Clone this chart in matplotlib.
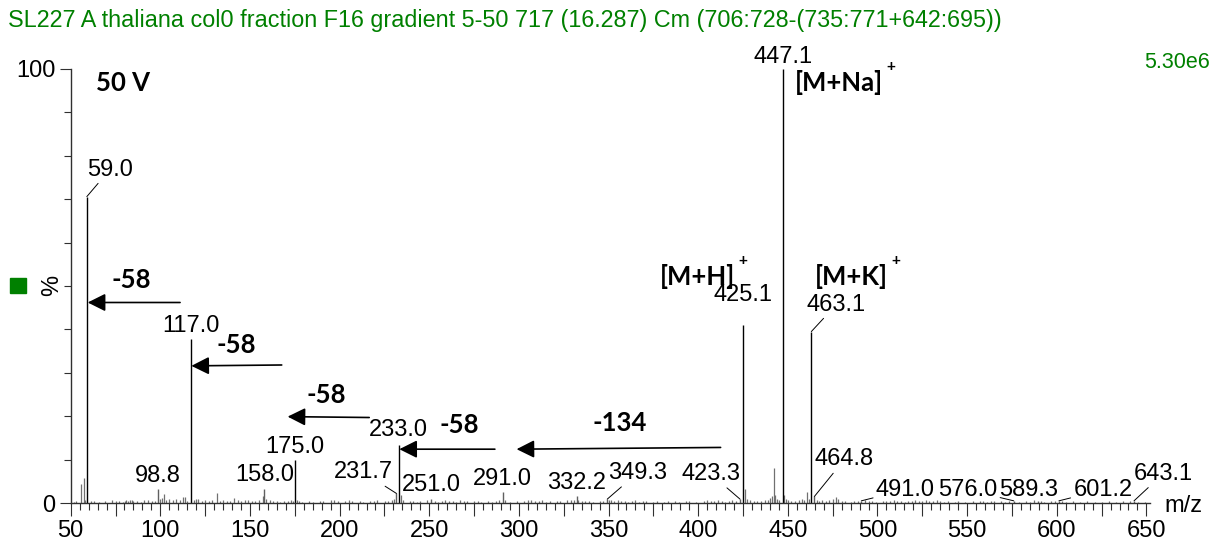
import matplotlib
matplotlib.use("Agg")
import matplotlib.pyplot as plt
from matplotlib.patches import Rectangle
from matplotlib.ticker import MultipleLocator, FixedLocator, FuncFormatter

# Labelled peaks: m/z and relative intensity (%)
peak_mz = [59.0, 98.8, 117.0, 158.0, 175.0, 231.7, 233.0, 251.0, 291.0, 332.2, 349.3,
           423.3, 425.1, 447.1, 463.1, 464.8, 491.0, 576.0, 589.3, 601.2, 643.1]
peak_int = [70.6, 3.2, 37.9, 3.2, 9.9, 2.2, 13.4, 1.0, 2.5, 1.7, 0.9,
            0.9, 41.0, 100.0, 39.5, 1.5, 0.5, 0.5, 0.5, 0.5, 0.5]

# Unlabelled background peaks
noise_mz = [52.0, 53.0, 55.9, 57.2, 58.1, 61.1, 63.0, 66.0, 69.1, 73.0, 75.0, 77.1, 79.0, 80.1,
            81.0, 82.1, 83.0, 84.1, 85.0, 87.0, 89.1, 91.0, 93.0, 95.1, 97.0, 100.0, 101.1, 102.0,
            103.1, 105.0, 107.1, 109.0, 111.1, 112.4, 114.0, 115.1, 119.0, 120.1, 121.0, 123.1,
            125.0, 127.1, 129.0, 131.4, 133.0, 135.1, 137.0, 139.1, 141.0, 143.1, 145.0, 147.1,
            149.0, 151.1, 153.0, 155.1, 157.0, 159.0, 161.1, 163.0, 165.1, 167.0, 169.1, 171.0,
            173.1, 174.0, 176.0, 177.1, 179.0, 183.1, 185.0, 189.1, 191.0, 195.1, 197.0, 199.1,
            203.0, 205.1, 207.0, 211.1, 213.0, 217.0, 219.1, 221.0, 225.1, 227.0, 229.1, 230.2,
            234.0, 235.1, 239.0, 241.1, 243.0, 245.1, 249.0, 253.1, 255.0, 257.1, 259.0, 261.1,
            263.0, 265.1, 267.0, 269.1, 271.0, 275.1, 277.0, 279.1, 283.0, 285.1, 287.0, 289.1,
            292.1, 295.0, 299.1, 303.0, 305.1, 307.0, 309.1, 311.0, 313.1, 315.0, 317.1, 321.0,
            323.1, 327.0, 329.1, 331.0, 333.1, 335.0, 337.1, 339.0, 341.1, 345.0, 347.1, 350.2,
            351.1, 353.0, 355.1, 357.0, 359.1, 361.0, 363.1, 365.0, 367.1, 369.0, 371.1, 375.0,
            377.1, 381.0, 383.1, 387.0, 389.1, 393.0, 395.1, 399.0, 403.1, 405.0, 407.1, 409.0,
            411.1, 413.0, 415.1, 417.0, 419.1, 421.0, 426.1, 427.1, 429.0, 431.1, 433.0, 435.1,
            437.0, 439.1, 440.2, 441.1, 442.2, 443.1, 444.0, 445.1, 448.1, 449.0, 450.1, 452.0,
            454.1, 456.0, 458.1, 459.0, 460.5, 462.0, 466.0, 467.1, 469.0, 471.1, 473.0, 475.1,
            477.0, 478.1, 480.0, 482.1, 485.0, 487.1, 489.0, 493.1, 495.0, 497.1, 499.0, 503.1,
            505.0, 507.1, 509.0, 511.1, 513.0, 515.1, 517.0, 519.1, 521.0, 523.1, 525.0, 527.1,
            529.0, 531.1, 533.0, 535.1, 537.0, 539.1, 543.0, 545.1, 549.0, 553.1, 557.0, 559.1,
            561.0, 563.1, 565.0, 569.1, 571.0, 573.1, 579.0, 583.1, 585.0, 587.1, 591.0, 593.1,
            597.0, 599.1, 603.0, 605.1, 609.0, 613.1, 617.0, 621.1, 625.0, 629.1, 633.0, 637.1,
            641.0, 645.1, 649.0]
noise_int = [0.3, 0.4, 4.4, 5.7, 0.6, 0.4, 0.5, 0.3, 0.4, 0.8, 0.4, 0.5, 0.3, 0.5,
             0.6, 0.5, 0.7, 0.6, 0.4, 0.5, 0.3, 0.6, 0.8, 0.4, 0.5, 1.0, 1.2, 2.0,
             0.8, 0.9, 0.6, 1.0, 0.7, 1.4, 1.3, 0.5, 0.8, 0.9, 1.0, 0.4,
             0.6, 0.5, 0.7, 2.3, 0.5, 0.6, 0.4, 0.5, 1.2, 0.6, 0.5, 0.6,
             0.7, 0.5, 0.4, 0.6, 1.5, 0.9, 0.6, 0.4, 0.5, 0.3, 0.4, 0.5,
             0.6, 0.5, 0.6, 0.4, 0.3, 0.5, 0.3, 0.4, 0.5, 0.6, 0.7, 0.4,
             0.5, 0.6, 0.4, 0.5, 0.3, 0.5, 0.4, 0.6, 0.4, 0.5, 0.7, 1.0,
             1.8, 0.8, 0.4, 0.5, 0.3, 0.4, 0.6, 0.5, 0.3, 0.5, 0.6, 0.4,
             0.5, 0.3, 0.6, 0.5, 0.4, 0.4, 0.5, 0.3, 0.4, 0.3, 0.5, 0.6,
             0.8, 0.3, 0.4, 0.5, 0.6, 0.7, 0.5, 0.4, 0.6, 0.3, 0.4, 0.5,
             0.4, 0.6, 0.8, 0.7, 0.6, 0.5, 0.4, 0.5, 0.3, 0.4, 0.5, 0.6,
             0.7, 0.5, 0.6, 0.4, 0.5, 0.3, 0.4, 0.6, 0.3, 0.5, 0.4, 0.3,
             0.4, 0.3, 0.5, 0.4, 0.3, 0.5, 0.4, 0.3, 0.4, 0.6, 0.5, 0.4,
             0.6, 0.4, 0.3, 0.5, 0.6, 0.5, 3.2, 1.0, 0.6, 0.5, 0.4, 0.5,
             0.6, 0.8, 1.2, 1.5, 8.0, 1.8, 0.9, 0.7, 1.8, 1.0, 0.6, 0.5,
             0.4, 0.6, 0.9, 0.7, 2.6, 1.0, 0.7, 0.5, 0.6, 0.5, 0.7, 0.9,
             1.3, 1.0, 0.5, 0.4, 0.3, 0.4, 0.5, 0.6, 0.5, 0.4, 0.3, 0.4,
             0.5, 0.4, 0.6, 0.4, 0.5, 0.3, 0.4, 0.5, 0.6, 0.4, 0.5, 0.6,
             0.5, 0.4, 0.6, 0.5, 0.3, 0.4, 0.3, 0.4, 0.3, 0.4, 0.5, 0.4,
             0.3, 0.4, 0.5, 0.4, 0.3, 0.4, 0.3, 0.4, 0.3, 0.6, 0.4, 0.3,
             0.4, 0.5, 0.4, 0.3, 0.4, 0.3, 0.4, 0.3, 0.3, 0.4, 0.3, 0.4,
             0.5, 0.3, 0.3]

# label offset from peak top in pixels (dx, dy) and whether a leader line is drawn
label_offsets = [(23, 27), (0, 13), (0, 13), (0, 14), (0, 13), (-33, 21), (0, 15), (0, 14),
                 (0, 13), (0, 13), (30, 26), (-29, 25), (0, 30), (0, 12), (25, 27), (30, 37),
                 (44, 11), (-46, 11), (-9, 11), (44, 11), (29, 27)]
leaders = [True, False, False, False, False, True, False, False, False, False, True,
           True, False, False, True, True, True, True, False, True, True]

# neutral-loss arrows: (tail m/z, tail %, tip m/z, tip %) and their labels
loss_arrows = [(111.0, 46.2, 59.5, 46.2), (167.7, 31.8, 117.3, 31.6), (216.5, 19.7, 171.0, 19.9),
               (286.6, 12.4, 233.3, 12.4), (412.5, 12.8, 298.7, 12.4)]
loss_labels = ["-58", "-58", "-58", "-58", "-134"]
loss_label_pos = [(84.0, 51.4), (142.6, 36.4), (192.8, 24.9), (266.5, 18.0), (356.3, 18.4)]

# adduct labels: text, anchor, alignment
adducts = [("[M+Na]", 453.9, 97.0, "left"), ("[M+H]", 420.4, 52.1, "right"),
           ("[M+K]", 465.0, 52.1, "left")]

title = "SL227 A thaliana col0 fraction F16 gradient 5-50 717 (16.287) Cm (706:728-(735:771+642:695))"
green = "#008000"
W, H = 1213, 542

plt.rcParams['font.family'] = ['Liberation Sans', 'DejaVu Sans']
fig = plt.figure(figsize=(W / 100, H / 100), dpi=100)
ax = fig.add_axes([70.7 / W, 1 - 503 / H, (1150 - 70.7) / W, (503 - 69) / H])
ax.set_xlim(50, 652)
ax.set_ylim(0, 100)
for s in ['top', 'right']:
    ax.spines[s].set_visible(False)
for s in ['left', 'bottom']:
    ax.spines[s].set_color('#303030')
    ax.spines[s].set_linewidth(1.0)

# spectrum sticks
ax.vlines(noise_mz, 0, noise_int, color='#707070', lw=0.9)
for mz, it in zip(peak_mz, peak_int):
    ax.vlines(mz, 0, it, color='black' if it > 5 else '#606060', lw=1.0)

# ticks
ax.xaxis.set_major_locator(MultipleLocator(25))
ax.xaxis.set_minor_locator(MultipleLocator(5))
ax.xaxis.set_major_formatter(FuncFormatter(lambda v, p: f"{v:.0f}" if v % 50 == 0 else ""))
ax.yaxis.set_major_locator(FixedLocator([0, 100]))
ax.yaxis.set_minor_locator(FixedLocator(list(range(10, 100, 10))))
ax.tick_params(axis='x', which='major', length=9, width=0.8, pad=3, labelsize=17, color='#303030')
ax.tick_params(axis='x', which='minor', length=5, width=0.8, color='#303030')
ax.tick_params(axis='y', which='major', length=8, width=0.8, pad=3, labelsize=17, color='#303030')
ax.tick_params(axis='y', which='minor', length=5, width=0.8, color='#303030')

# peak labels
for mz, it, (dx, dy), lead in zip(peak_mz, peak_int, label_offsets, leaders):
    ax.annotate(f"{mz:.1f}", xy=(mz, it), xytext=(dx, dy), textcoords='offset pixels',
                ha='center', va='center', fontsize=17,
                arrowprops=dict(arrowstyle='-', lw=0.7, color='black', shrinkA=0, shrinkB=0) if lead else None)

# neutral loss arrows
bold = dict(family=['Lato', 'DejaVu Sans'], fontweight='bold', fontsize=18.5)
for (x0, y0, x1, y1), lab, (lx, ly) in zip(loss_arrows, loss_labels, loss_label_pos):
    ax.annotate('', xy=(x1, y1), xytext=(x0, y0),
                arrowprops=dict(arrowstyle='-|>,head_length=1.08,head_width=0.54', mutation_scale=10,
                                lw=1.2, color='black', shrinkA=0, shrinkB=0))
    ax.text(lx, ly, lab, ha='center', va='center', **bold)

ax.text(64.1, 96.8, "50 V", ha='left', va='center', **bold)
for lab, x, y, ha in adducts:
    t = ax.text(x, y, lab, ha=ha, va='center', **bold)
    ax.annotate('+', xy=(1, 1), xycoords=t, xytext=(8, 3), textcoords='offset pixels',
                ha='center', va='center', fontsize=11, fontweight='bold')

# header / side decorations
fig.text(8 / W, 1 - 20 / H, title, color=green, fontsize=16.8, ha='left', va='center')
fig.text(1210 / W, 1 - 62 / H, "5.30e6", color=green, fontsize=15.5, ha='right', va='center')
fig.patches.append(Rectangle((10 / W, 1 - 293 / H), 16 / W, 15 / H, transform=fig.transFigure,
                             color=green))
fig.text(51.7 / W, 1 - 285.7 / H, "%", rotation=90, fontsize=17, ha='center', va='center')
fig.text(1183 / W, 1 - 506 / H, "m/z", fontsize=17, ha='center', va='center')

fig.savefig("out.png", dpi=100)
